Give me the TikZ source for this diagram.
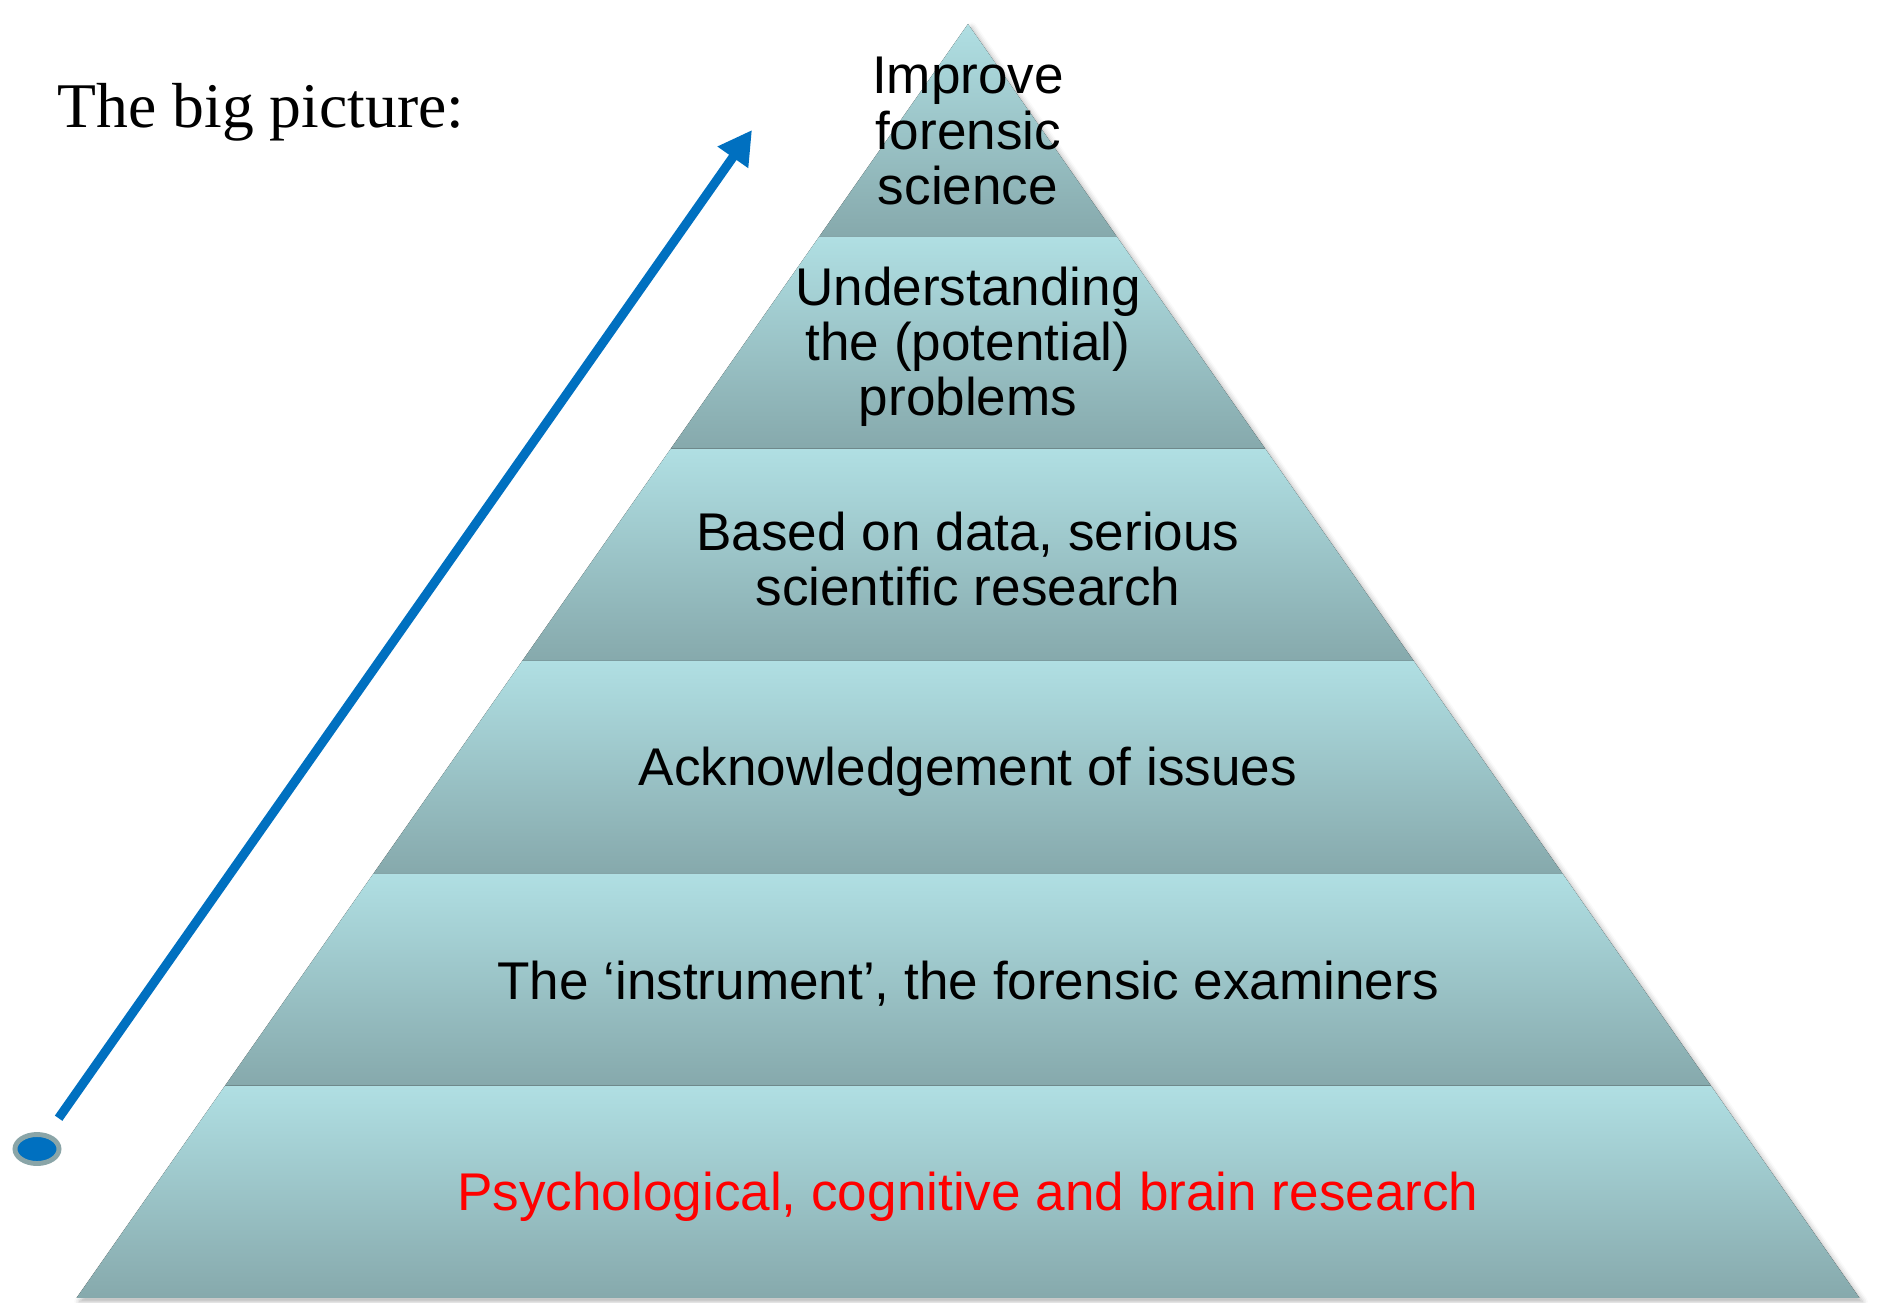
\documentclass[tikz,border=0pt]{standalone}
\usepackage{fontspec}
\setmainfont{Liberation Sans}
\newfontfamily\headfont{Liberation Serif}
\usetikzlibrary{arrows.meta, shadows.blur, shapes.geometric}

\definecolor{tierlight}{RGB}{176,223,227}
\definecolor{tierdark}{RGB}{134,169,172}
\definecolor{arrowblue}{RGB}{0,112,192}
\definecolor{dotrim}{RGB}{138,165,168}

\begin{document}
\begin{tikzpicture}[
  x=0.01cm, y=-0.01cm,
  tier/.style={top color=tierlight, bottom color=tierdark},
  tiertext/.style={align=center, font=\fontsize{15.1}{15.7}\selectfont, text=black}
]
\useasboundingbox (0,0) rectangle (1878,1303);

% ------------------- Pyramid ------------------- %
% soft shadow under the whole pyramid
\fill[white, blur shadow={shadow xshift=1pt, shadow yshift=-1pt, shadow blur radius=1.5pt, shadow opacity=30}]
  (968,24) -- (1859,1298) -- (76,1298) -- cycle;

% six tiers, each one a slice of the triangle
\foreach \i in {0,...,5} {
  \pgfmathsetmacro{\ytop}{24+212.33*\i}
  \pgfmathsetmacro{\ybot}{24+212.33*(\i+1)}
  \pgfmathsetmacro{\wtop}{148.58*\i}
  \pgfmathsetmacro{\wbot}{148.58*(\i+1)}
  \fill[tier] (968-\wtop,\ytop) -- (968+\wtop,\ytop) -- (968+\wbot,\ybot) -- (968-\wbot,\ybot) -- cycle;
}

% Tier labels
\node[tiertext] (improve) at (968,131) {Improve\\forensic\\science};
\node[tiertext] (understand) at (968,347) {Understanding\\the (potential)\\problems};
\node[tiertext] (research) at (968,559) {Based on data, serious\\scientific research};
\node[tiertext] (acknowledge) at (968,772) {Acknowledgement of issues};
\node[tiertext] (instrument) at (968,984) {The ‘instrument’, the forensic examiners};
\node[tiertext, text=red] (psych) at (968,1197) {Psychological, cognitive and brain research};

% ------------------- Heading and arrow ------------------- %
\node[font=\headfont\fontsize{18.1}{20}\selectfont, anchor=base west, inner sep=0pt] (heading) at (57,127) {The big picture:};

\node[ellipse, draw=dotrim, line width=1.4pt, fill=arrowblue, minimum width=0.44cm, minimum height=0.29cm, inner sep=0pt] (start) at (37,1149) {};
\coordinate (tip) at (752,130);

\draw[arrowblue, line width=2.6pt, -{Triangle[length=9.5pt, width=10pt]}, shorten <=5.4pt] (start) -- (tip);

\end{tikzpicture}
\end{document}
